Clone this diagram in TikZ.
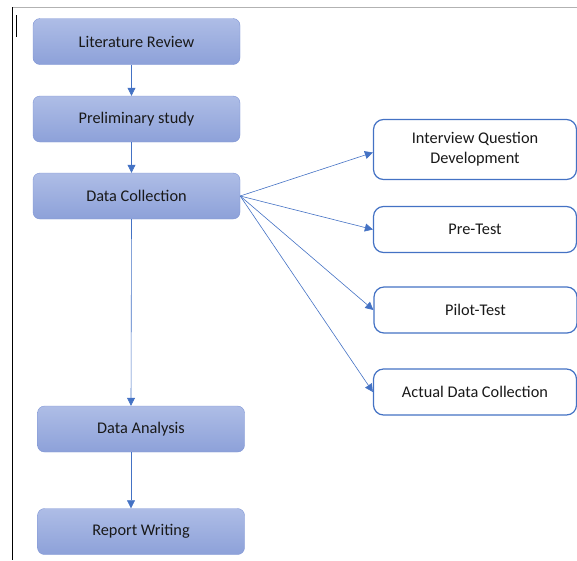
\documentclass[tikz,border=0pt]{standalone}
\usepackage{fontspec}
\setmainfont{Carlito}
\usepackage{xcolor}
\usetikzlibrary{arrows.meta, positioning}

\definecolor{stepedge}{HTML}{7F95D5}
\definecolor{steptop}{HTML}{AEBDE6}
\definecolor{stepbottom}{HTML}{8DA1D9}
\definecolor{linkblue}{HTML}{4472C4}

\begin{document}
\begin{tikzpicture}[x=1pt, y=-1pt, >={Triangle[length=8pt, width=8pt]},
    stepbox/.style={draw=stepedge, rounded corners=7pt, top color=steptop, bottom color=stepbottom,
      minimum width=207pt, minimum height=46pt, font=\fontsize{16.3}{19}\selectfont, text=black!90},
    taskbox/.style={draw=linkblue, line width=1.2pt, rounded corners=10pt, fill=white,
      minimum width=203pt, minimum height=46pt, align=center, font=\fontsize{16.3}{20}\selectfont, text=black!90},
    link/.style={->, linkblue, line width=0.6pt}]
    \useasboundingbox (0, 0) rectangle (577, 560);

    % frame
    \draw[gray!60, line width=0.8pt] (12, 7) -- (577, 7);
    \draw[black, line width=0.8pt] (12, 7) -- (12, 560);
    \draw[black, line width=1pt] (16, 15) -- (16, 37);

    \node[stepbox] (litreview) at (136.5, 41.5) {Literature Review};
    \node[stepbox] (prelim) at (136.5, 119) {Preliminary study};
    \node[stepbox] (datacoll) at (136.5, 196) {Data Collection};
    \node[stepbox] (analysis) at (141, 429) {Data Analysis};
    \node[stepbox] (report) at (141, 531.5) {Report Writing};

    \node[taskbox, minimum height=60pt] (interview) at (475, 149.5) {Interview Question\\Development};
    \node[taskbox] (pretest) at (475, 229.5) {Pre-Test};
    \node[taskbox] (pilot) at (475.5, 310) {Pilot-Test};
    \node[taskbox] (actual) at (475, 392) {Actual Data Collection};

    \draw[link] ([xshift=-5pt]litreview.south) -- ([xshift=-5pt]prelim.north);
    \draw[link] ([xshift=-5pt]prelim.south) -- ([xshift=-5pt]datacoll.north);
    \draw[link] ([xshift=-5pt]datacoll.south) -- ([xshift=-10pt]analysis.north);
    \draw[link] ([xshift=-10pt]analysis.south) -- ([xshift=-10pt]report.north);

    \draw[link] (datacoll.east) -- ([yshift=-3pt]interview.west);
    \draw[link] (datacoll.east) -- (pretest.west);
    \draw[link] (datacoll.east) -- (pilot.west);
    \draw[link] (datacoll.east) -- (actual.west);

  \end{tikzpicture}
\end{document}
